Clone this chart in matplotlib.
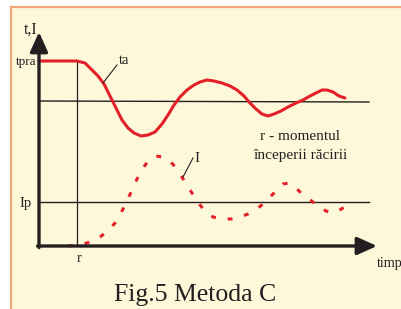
import numpy as np
import matplotlib
matplotlib.use("Agg")
import matplotlib.pyplot as plt

# schematic, in pixel-like units (x = time, y = value, y grows down)
ta_x = [39, 77, 85, 92, 98, 104, 110, 116, 122, 128, 134, 141, 148, 155, 162, 168,
        174, 180, 187, 194, 200, 207, 214, 222, 230, 237, 244, 250, 256, 262, 268,
        274, 281, 288, 296, 303, 310, 316, 322, 327, 333, 339, 345]
ta_y = [61, 61, 63, 70, 76, 84, 96, 108, 120, 128, 133, 136, 135, 132, 124, 115,
        105, 97, 90, 85, 82, 80, 81, 83, 86, 90, 96, 103, 109, 114, 116,
        114, 111, 107, 103, 100, 96, 93, 90, 90, 92, 96, 98]

i_x = [68, 80, 90, 100, 108, 115, 121, 127, 132, 137, 143, 149, 156, 163, 170, 176,
       182, 188, 194, 200, 206, 213, 222, 231, 240, 248, 257, 264, 270, 277, 283,
       289, 295, 301, 308, 314, 320, 326, 332, 338, 343, 348]
i_y = [246, 245, 242, 237, 231, 223, 213, 201, 190, 179, 168, 160, 156, 157, 161, 168,
       177, 187, 196, 205, 212, 217, 219, 219, 217, 214, 209, 203, 197, 190, 184,
       183, 187, 193, 198, 203, 207, 211, 213, 211, 208, 205]

t_origin = 39          # time axis start
t_end = 377            # time axis arrow tip
v_base = 246           # value axis base
v_top = 32             # value axis arrow tip
t_r = 77               # moment r
tp_level = [101, 102]  # tp reference (slightly tilted)
ip_level = 202
tpra_level = 61
ref_end = 369

ink = '#231F20'
red = '#E3202A'

fig = plt.figure(figsize=(4.02, 3.09), dpi=100)
fig.patch.set_facecolor('white')
ax = fig.add_axes([0, 0, 1, 1])
ax.set_xlim(0, 402)
ax.set_ylim(309, 0)
ax.axis('off')

# panel background and orange frame
ax.add_patch(plt.Rectangle((11, 7), 402, 309, facecolor='#FEF8DA', edgecolor='none', zorder=0))
ax.plot([11, 402], [7, 7], color='#F4A57A', lw=1.6, zorder=1)
ax.plot([11, 11], [7, 309], color='#F4A57A', lw=1.6, zorder=1)

# reference lines
ax.plot([t_origin, ref_end], tp_level, color=ink, lw=1.0, zorder=2)
ax.plot([t_origin, ref_end], [ip_level, ip_level], color=ink, lw=1.0, zorder=2)
ax.plot([t_r, t_r], [tpra_level, v_base], color=ink, lw=0.9, zorder=2)

# axes with arrows
ax.annotate('', xy=(t_origin, v_top), xytext=(t_origin, v_base + 1.5),
            arrowprops=dict(arrowstyle='-|>,head_length=1.0,head_width=0.45',
                            lw=2.4, color=ink, shrinkA=0, shrinkB=0, mutation_scale=12),
            zorder=4)
ax.annotate('', xy=(t_end, v_base), xytext=(t_origin - 1.5, v_base),
            arrowprops=dict(arrowstyle='-|>,head_length=1.0,head_width=0.45',
                            lw=2.4, color=ink, shrinkA=0, shrinkB=0, mutation_scale=12),
            zorder=4)

# curves
ax.plot(ta_x, ta_y, color=red, lw=2.2, solid_capstyle='round', zorder=3)
ax.plot(i_x, i_y, color=red, lw=2.2, linestyle=(0, (1.6, 3.9)),
        dash_capstyle='butt', zorder=3)

# leaders
ax.plot([117, 103], [65, 83], color=ink, lw=0.8, zorder=3)
ax.plot([193, 183], [158, 177], color=ink, lw=0.8, zorder=3)

serif = ['Liberation Serif', 'DejaVu Serif']
ax.text(24, 30, 't,I', fontsize=11.5, family=serif, color=ink, va='center', ha='left')
ax.text(37, 62, 'tpra', fontsize=9.5, family=serif, color=ink, va='center', ha='right')
ax.text(119, 60, 'ta', fontsize=10.5, family=serif, color=ink, va='center', ha='left')
ax.text(194, 158, 'I', fontsize=11, family=serif, color=ink, va='center', ha='left')
ax.text(32, 203, 'Ip', fontsize=10.5, family=serif, color=ink, va='center', ha='right')
ax.text(79, 258, 'r', fontsize=10.5, family=serif, color=ink, va='center', ha='center')
ax.text(377, 264, 'timp', fontsize=10.2, family=serif, color=ink, va='center', ha='left')
ax.text(300, 137, 'r - momentul', fontsize=11, family=serif, color=ink, va='center', ha='center')
ax.text(300, 155, 'începerii răcirii', fontsize=11, family=serif, color=ink, va='center', ha='center')
ax.text(195, 295, 'Fig.5 Metoda C', fontsize=18.5, family=serif, color=ink, va='center', ha='center')

plt.savefig('out.png', dpi=100, facecolor=fig.get_facecolor())
